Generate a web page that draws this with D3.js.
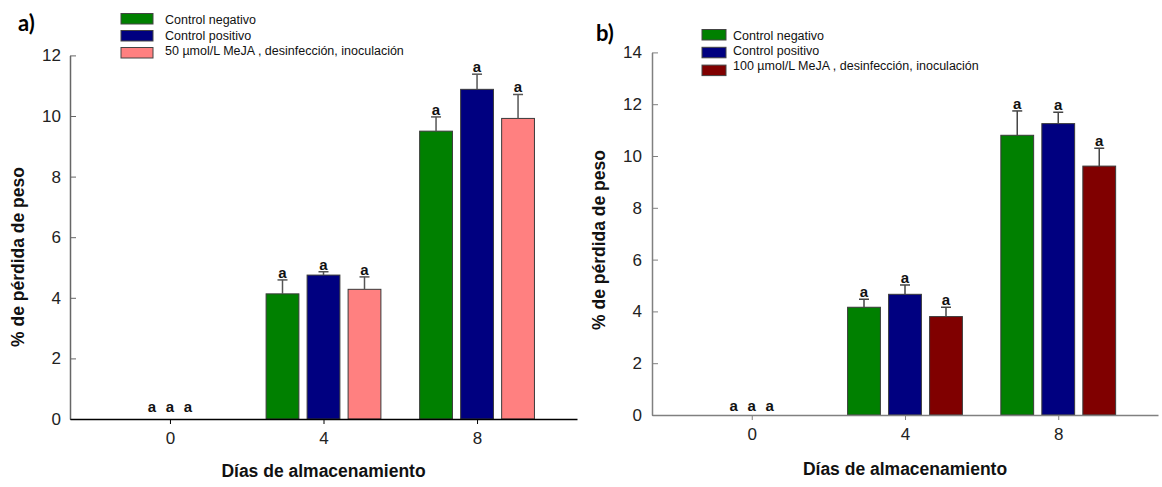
<!DOCTYPE html>
<html>
<head>
<meta charset="utf-8">
<script src="https://cdn.jsdelivr.net/npm/d3@7"></script>
<style>
  body { margin: 0; background: #fff; }
  svg { display: block; font-family: "Liberation Sans", Arial, sans-serif; }
</style>
</head>
<body>
<svg width="1162" height="487"></svg>
<script>
// data
var dias = ["0", "4", "8"];
var seriesA = ["Control negativo", "Control positivo", "50 µmol/L MeJA , desinfección, inoculación"];
var seriesB = ["Control negativo", "Control positivo", "100 µmol/L MeJA , desinfección, inoculación"];
var coloresA = ["#008000", "#000080", "#ff8080"];
var coloresB = ["#008000", "#000080", "#800000"];
// one row per series, one value per day
var valoresA = [[0, 4.13, 9.50], [0, 4.75, 10.88], [0, 4.28, 9.92]];
var erroresA = [[0, 0.46, 0.47], [0, 0.11, 0.50], [0, 0.41, 0.79]];
var valoresB = [[0, 4.16, 10.80], [0, 4.66, 11.25], [0, 3.80, 9.61]];
var erroresB = [[0, 0.31, 0.94], [0, 0.36, 0.44], [0, 0.36, 0.69]];
var letrasA = [["a", "a", "a"], ["a", "a", "a"], ["a", "a", "a"]];
var letrasB = [["a", "a", "a"], ["a", "a", "a"], ["a", "a", "a"]];
var ticksA = [0, 2, 4, 6, 8, 10, 12];
var ticksB = [0, 2, 4, 6, 8, 10, 12, 14];

var svg = d3.select("svg");

function panel(cfg) {
  var g = svg.append("g");

  var x = d3.scalePoint().domain(dias).range([cfg.x0, cfg.x1]).padding(0.651);
  var inner = d3.scaleBand().domain([0, 1, 2]).range([-61.5, 61.5])
      .paddingInner(0.2).paddingOuter(0.1);
  var y = d3.scaleLinear().domain([0, cfg.ymax]).range([cfg.y0, cfg.ytop]);

  // bars
  var rows = [];
  cfg.valores.forEach(function(serie, s) {
    serie.forEach(function(v, d) {
      rows.push({s: s, dia: dias[d], v: v, e: cfg.errores[s][d], l: cfg.letras[s][d]});
    });
  });

  g.selectAll("rect.bar")
    .data(rows.filter(function(r) { return r.v > 0; }))
    .enter().append("rect")
      .attr("class", "bar")
      .attr("x", function(r) { return x(r.dia) + inner(r.s); })
      .attr("y", function(r) { return y(r.v); })
      .attr("width", inner.bandwidth())
      .attr("height", function(r) { return y(0) - y(r.v); })
      .attr("fill", function(r) { return cfg.colores[r.s]; })
      .attr("stroke", "#3a3a3a")
      .attr("stroke-width", 1);

  // error bars (upper only)
  var eb = g.selectAll("g.err")
    .data(rows.filter(function(r) { return r.v > 0; }))
    .enter().append("g").attr("class", "err")
      .attr("stroke", cfg.errColor).attr("stroke-width", 1.5);
  eb.append("line")
    .attr("x1", function(r) { return x(r.dia) + inner(r.s) + inner.bandwidth() / 2; })
    .attr("x2", function(r) { return x(r.dia) + inner(r.s) + inner.bandwidth() / 2; })
    .attr("y1", function(r) { return y(r.v); })
    .attr("y2", function(r) { return y(r.v + r.e); });
  eb.append("line")
    .attr("x1", function(r) { return x(r.dia) + inner(r.s) + inner.bandwidth() / 2 - 5; })
    .attr("x2", function(r) { return x(r.dia) + inner(r.s) + inner.bandwidth() / 2 + 5; })
    .attr("y1", function(r) { return y(r.v + r.e); })
    .attr("y2", function(r) { return y(r.v + r.e); });

  // letters
  g.selectAll("text.let")
    .data(rows)
    .enter().append("text")
      .attr("class", "let")
      .attr("x", function(r) {
        return r.v > 0 ? x(r.dia) + inner(r.s) + inner.bandwidth() / 2 : x(r.dia) + (r.s - 1) * 18;
      })
      .attr("y", function(r) { return r.v > 0 ? y(r.v + r.e) - 2 : y(0) - cfg.zeroLift; })
      .attr("text-anchor", "middle")
      .attr("font-size", "15px")
      .attr("font-weight", "bold")
      .attr("fill", "#111")
      .text(function(r) { return r.l; });

  // y axis
  var ya = g.append("g")
      .attr("transform", "translate(" + cfg.x0 + ",0)")
      .call(d3.axisRight(y).tickValues(cfg.ticks).tickSize(6).tickSizeOuter(0).tickFormat(d3.format("d")));
  ya.select(".domain").attr("stroke", cfg.yAxisColor).attr("stroke-width", 1.5);
  ya.selectAll(".tick line").attr("stroke", cfg.yAxisColor);
  ya.selectAll(".tick text")
    .attr("x", -cfg.labelGap)
    .attr("text-anchor", "end")
    .attr("font-size", "17px")
    .attr("fill", "#222");

  // x axis
  var xa = g.append("g")
      .attr("transform", "translate(0," + cfg.y0 + ")")
      .call(d3.axisBottom(x).tickSize(5).tickSizeOuter(0).tickPadding(8));
  xa.select(".domain").attr("stroke", cfg.xAxisColor).attr("stroke-width", 1.5);
  xa.selectAll(".tick line").attr("stroke", cfg.xAxisColor);
  xa.selectAll(".tick text").attr("font-size", "17px").attr("fill", "#222");

  // axis titles
  g.append("text")
    .attr("x", x("4"))
    .attr("y", cfg.xTitleY)
    .attr("text-anchor", "middle")
    .attr("font-size", "17.5px")
    .attr("font-weight", "bold")
    .attr("fill", "#111")
    .text("Días de almacenamiento");

  g.append("text")
    .attr("transform", "translate(" + cfg.yTitleX + "," + cfg.yTitleY + ") rotate(-90)")
    .attr("text-anchor", "middle")
    .attr("font-size", "17.5px")
    .attr("font-weight", "bold")
    .attr("fill", "#111")
    .text("% de pérdida de peso");

  // legend
  var lg = g.selectAll("g.leg")
    .data(cfg.series)
    .enter().append("g").attr("class", "leg");
  lg.append("rect")
    .attr("x", cfg.legX)
    .attr("y", function(d, i) { return cfg.legY + i * cfg.legSwStep; })
    .attr("width", cfg.legW)
    .attr("height", 10.5)
    .attr("fill", function(d, i) { return cfg.colores[i]; })
    .attr("stroke", "#444")
    .attr("stroke-width", 1);
  lg.append("text")
    .attr("x", cfg.legX + cfg.legW + cfg.legGap)
    .attr("y", function(d, i) { return cfg.legTextY + i * cfg.legTextStep; })
    .attr("font-size", "12.5px")
    .attr("fill", "#111")
    .text(function(d) { return d; });

  // panel letter
  g.append("text")
    .attr("x", cfg.tagX)
    .attr("y", cfg.tagY)
    .attr("font-family", "Lato, 'Open Sans', sans-serif")
    .attr("font-size", "22px")
    .attr("font-weight", "bold")
    .attr("fill", "#000")
    .text(cfg.tag);
}

panel({
  x0: 70, x1: 577, y0: 419, ytop: 55.4, ymax: 12, ticks: ticksA,
  valores: valoresA, errores: erroresA, letras: letrasA, colores: coloresA, series: seriesA,
  errColor: "#555", yAxisColor: "#666", xAxisColor: "#000", labelGap: 9, zeroLift: 7,
  xTitleY: 477, yTitleX: 24, yTitleY: 257,
  legX: 121, legY: 13.5, legW: 32, legGap: 12, legSwStep: 17, legTextY: 24, legTextStep: 15.5,
  tag: "a)", tagX: 18, tagY: 31
});

panel({
  x0: 652, x1: 1158, y0: 415, ytop: 52.4, ymax: 14, ticks: ticksB,
  valores: valoresB, errores: erroresB, letras: letrasB, colores: coloresB, series: seriesB,
  errColor: "#444", yAxisColor: "#808080", xAxisColor: "#808080", labelGap: 10, zeroLift: 4,
  xTitleY: 475, yTitleX: 605, yTitleY: 240,
  legX: 702, legY: 29.5, legW: 24, legGap: 7, legSwStep: 17.8, legTextY: 40, legTextStep: 15,
  tag: "b)", tagX: 596, tagY: 41
});
</script>
</body>
</html>
